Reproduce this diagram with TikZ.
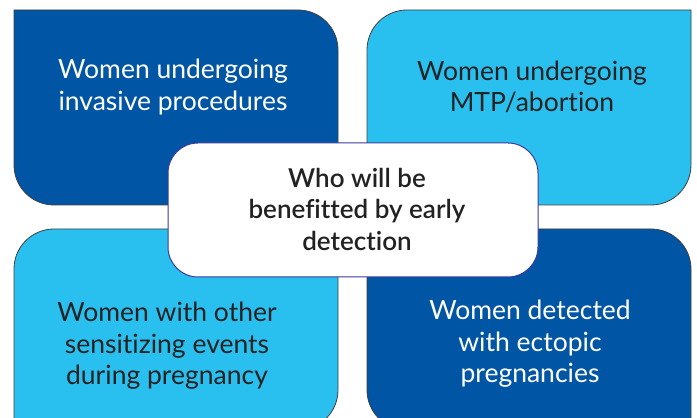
\documentclass[tikz,border=0pt]{standalone}
\usepackage{fontspec}
\setmainfont{Lato}[BoldFont={Lato Semibold},Ligatures=NoCommon]
\definecolor{dblue}{HTML}{0055A5}
\definecolor{lblue}{HTML}{29C0F0}
\definecolor{txt}{HTML}{222222}
\definecolor{cborder}{HTML}{3A3A9E}
\begin{document}
\begin{tikzpicture}[x=1pt,y=1pt,
  quad/.style={draw=black!75,line width=0.8pt},
  qtext/.style={align=center,font=\fontsize{26.5}{31.5}\selectfont},
  ctext/.style={align=center,font=\fontsize{26}{31.5}\selectfont\bfseries,text=txt}]
\useasboundingbox (0,0) rectangle (697,418);
\clip (0,0) rectangle (697,418);
% top-left
\path[quad,fill=dblue] (14,408) -- (298,408) arc[start angle=90,end angle=0,radius=40]
  -- (338,253) arc[start angle=0,end angle=-90,radius=40]
  -- (54,213) arc[start angle=270,end angle=180,radius=40] -- cycle;
% top-right
\path[quad,fill=lblue] (691,408) -- (691,253) arc[start angle=0,end angle=-90,radius=40]
  -- (407,213) arc[start angle=270,end angle=180,radius=40]
  -- (367,368) arc[start angle=180,end angle=90,radius=40] -- cycle;
% bottom-left
\path[quad,fill=lblue] (14,-12) -- (14,149) arc[start angle=180,end angle=90,radius=40]
  -- (298,189) arc[start angle=90,end angle=0,radius=40]
  -- (338,28) arc[start angle=0,end angle=-90,radius=40] -- cycle;
% bottom-right
\path[quad,fill=dblue] (691,-12) -- (691,149) arc[start angle=0,end angle=90,radius=40]
  -- (407,189) arc[start angle=90,end angle=180,radius=40]
  -- (367,28) arc[start angle=180,end angle=270,radius=40] -- cycle;
% center
\node[draw=cborder,line width=1pt,fill=white,rounded corners=30pt,minimum width=370pt,minimum height=134pt] (c) at (353,208) {};
\node[ctext] (ct) at (357,209) {Who will be\\benefitted by early\\detection};
\node[qtext,text=white] (tl) at (173,331) {Women undergoing\\invasive procedures};
\node[qtext,text=txt] (tr) at (532,331) {Women undergoing\\MTP/abortion};
\node[qtext,text=txt] (bl) at (167,72) {Women with other\\sensitizing events\\during pregnancy};
\node[qtext,text=white] (br) at (530,74) {Women detected\\with ectopic\\pregnancies};
\end{tikzpicture}
\end{document}
